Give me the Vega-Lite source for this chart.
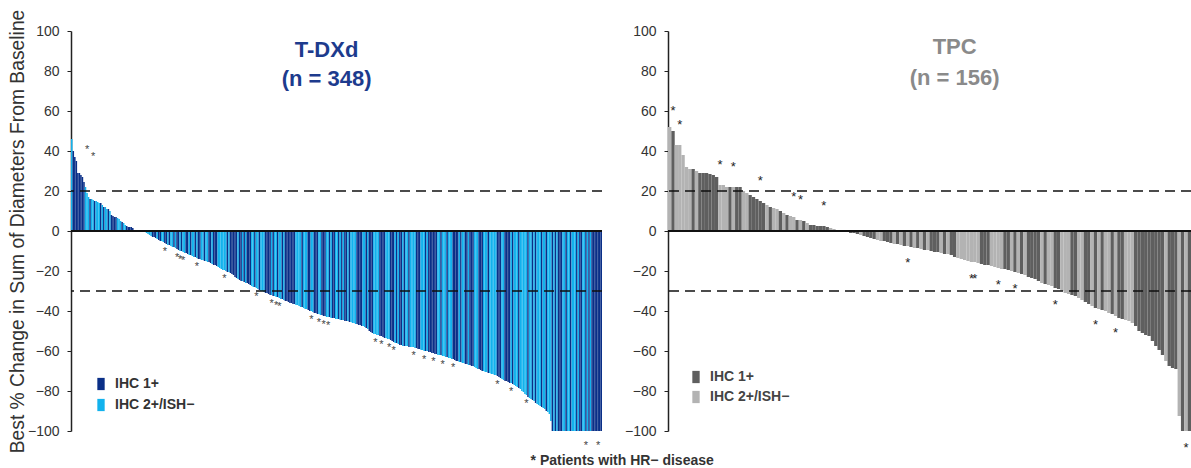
{
"$schema": "https://vega.github.io/schema/vega-lite/v6.json",
"padding": {"left": 8, "top": 9, "right": 5, "bottom": 0},
"bounds": "flush",
"spacing": 66,
"config": {"font": "Liberation Sans", "view": {"stroke": null}, "axis": {"labelOverlap": false}},
"title": {"text": "* Patients with HR− disease", "orient": "bottom", "anchor": "middle", "fontSize": 14, "fontWeight": "bold", "color": "#333333", "offset": -1, "dx": 22},
"resolve": {"scale": {"color": "independent", "x": "independent", "y": "independent"}, "legend": {"color": "independent"}},
"datasets": {
"tdxd": [
{"id":1,"pct":46,"ihc":"2+"},{"id":2,"pct":40,"ihc":"1+"},{"id":3,"pct":37,"ihc":"1+"},{"id":4,"pct":35,"ihc":"1+"},{"id":5,"pct":29,"ihc":"1+"},{"id":6,"pct":29,"ihc":"1+"},{"id":7,"pct":28,"ihc":"1+"},{"id":8,"pct":27,"ihc":"1+"},{"id":9,"pct":24.5,"ihc":"1+"},{"id":10,"pct":22,"ihc":"2+"},
{"id":11,"pct":19,"ihc":"2+","hr":1},{"id":12,"pct":17,"ihc":"2+"},{"id":13,"pct":16,"ihc":"1+"},{"id":14,"pct":16,"ihc":"2+"},{"id":15,"pct":15.5,"ihc":"2+","hr":1},{"id":16,"pct":15,"ihc":"1+"},{"id":17,"pct":15,"ihc":"2+"},{"id":18,"pct":14.5,"ihc":"2+"},{"id":19,"pct":14,"ihc":"2+"},{"id":20,"pct":14,"ihc":"1+"},
{"id":21,"pct":13,"ihc":"2+"},{"id":22,"pct":12,"ihc":"1+"},{"id":23,"pct":12,"ihc":"2+"},{"id":24,"pct":11,"ihc":"2+"},{"id":25,"pct":11,"ihc":"1+"},{"id":26,"pct":10,"ihc":"2+"},{"id":27,"pct":8,"ihc":"1+"},{"id":28,"pct":7.5,"ihc":"1+"},{"id":29,"pct":7,"ihc":"1+"},{"id":30,"pct":7,"ihc":"1+"},
{"id":31,"pct":6.5,"ihc":"2+"},{"id":32,"pct":6,"ihc":"2+"},{"id":33,"pct":5,"ihc":"2+"},{"id":34,"pct":4.5,"ihc":"1+"},{"id":35,"pct":4,"ihc":"2+"},{"id":36,"pct":3,"ihc":"2+"},{"id":37,"pct":2.5,"ihc":"1+"},{"id":38,"pct":2,"ihc":"1+"},{"id":39,"pct":2,"ihc":"1+"},{"id":40,"pct":2,"ihc":"1+"},
{"id":41,"pct":1.5,"ihc":"1+"},{"id":42,"pct":0,"ihc":"2+"},{"id":43,"pct":0,"ihc":"2+"},{"id":44,"pct":0,"ihc":"2+"},{"id":45,"pct":0,"ihc":"2+"},{"id":46,"pct":0,"ihc":"2+"},{"id":47,"pct":0,"ihc":"2+"},{"id":48,"pct":0,"ihc":"2+"},{"id":49,"pct":0,"ihc":"2+"},{"id":50,"pct":-1,"ihc":"2+"},
{"id":51,"pct":-1.5,"ihc":"2+"},{"id":52,"pct":-2,"ihc":"2+"},{"id":53,"pct":-2.5,"ihc":"2+"},{"id":54,"pct":-3,"ihc":"1+"},{"id":55,"pct":-3,"ihc":"1+"},{"id":56,"pct":-3.5,"ihc":"1+"},{"id":57,"pct":-4,"ihc":"2+"},{"id":58,"pct":-4.5,"ihc":"1+"},{"id":59,"pct":-5,"ihc":"1+"},{"id":60,"pct":-5,"ihc":"2+"},
{"id":61,"pct":-5.5,"ihc":"2+"},{"id":62,"pct":-6,"ihc":"1+","hr":1},{"id":63,"pct":-6.5,"ihc":"1+"},{"id":64,"pct":-7,"ihc":"2+"},{"id":65,"pct":-7,"ihc":"1+"},{"id":66,"pct":-7.5,"ihc":"2+"},{"id":67,"pct":-8,"ihc":"2+"},{"id":68,"pct":-8,"ihc":"1+"},{"id":69,"pct":-8.5,"ihc":"2+"},{"id":70,"pct":-9,"ihc":"1+","hr":1},
{"id":71,"pct":-9.5,"ihc":"1+"},{"id":72,"pct":-10,"ihc":"2+","hr":1},{"id":73,"pct":-10,"ihc":"1+"},{"id":74,"pct":-10.5,"ihc":"2+","hr":1},{"id":75,"pct":-11,"ihc":"2+"},{"id":76,"pct":-11,"ihc":"1+"},{"id":77,"pct":-11.5,"ihc":"1+"},{"id":78,"pct":-12,"ihc":"2+"},{"id":79,"pct":-12,"ihc":"1+"},{"id":80,"pct":-12.5,"ihc":"2+"},
{"id":81,"pct":-13,"ihc":"2+"},{"id":82,"pct":-13,"ihc":"1+"},{"id":83,"pct":-13.5,"ihc":"2+","hr":1},{"id":84,"pct":-14,"ihc":"1+"},{"id":85,"pct":-14,"ihc":"1+"},{"id":86,"pct":-14.5,"ihc":"2+"},{"id":87,"pct":-14.5,"ihc":"2+"},{"id":88,"pct":-15,"ihc":"1+"},{"id":89,"pct":-15,"ihc":"2+"},{"id":90,"pct":-15.5,"ihc":"2+"},
{"id":91,"pct":-15.5,"ihc":"1+"},{"id":92,"pct":-16,"ihc":"1+"},{"id":93,"pct":-16.5,"ihc":"2+"},{"id":94,"pct":-17,"ihc":"1+"},{"id":95,"pct":-17,"ihc":"1+"},{"id":96,"pct":-17.5,"ihc":"1+"},{"id":97,"pct":-18,"ihc":"2+"},{"id":98,"pct":-18.5,"ihc":"2+"},{"id":99,"pct":-19,"ihc":"2+"},{"id":100,"pct":-19.5,"ihc":"2+"},
{"id":101,"pct":-19.5,"ihc":"2+","hr":1},{"id":102,"pct":-20,"ihc":"2+"},{"id":103,"pct":-20.5,"ihc":"1+"},{"id":104,"pct":-20.5,"ihc":"2+"},{"id":105,"pct":-21,"ihc":"1+"},{"id":106,"pct":-21.5,"ihc":"1+"},{"id":107,"pct":-22,"ihc":"1+"},{"id":108,"pct":-23,"ihc":"1+"},{"id":109,"pct":-23.5,"ihc":"1+"},{"id":110,"pct":-24,"ihc":"2+"},
{"id":111,"pct":-24.5,"ihc":"1+"},{"id":112,"pct":-25,"ihc":"1+"},{"id":113,"pct":-25,"ihc":"2+"},{"id":114,"pct":-25.5,"ihc":"1+"},{"id":115,"pct":-26,"ihc":"2+"},{"id":116,"pct":-26,"ihc":"1+"},{"id":117,"pct":-26.5,"ihc":"1+"},{"id":118,"pct":-27,"ihc":"1+"},{"id":119,"pct":-27.5,"ihc":"2+"},{"id":120,"pct":-28,"ihc":"2+"},
{"id":121,"pct":-28,"ihc":"1+"},{"id":122,"pct":-28.5,"ihc":"2+","hr":1},{"id":123,"pct":-29,"ihc":"2+"},{"id":124,"pct":-29.5,"ihc":"1+"},{"id":125,"pct":-30,"ihc":"2+"},{"id":126,"pct":-30,"ihc":"2+"},{"id":127,"pct":-30.5,"ihc":"2+"},{"id":128,"pct":-31,"ihc":"1+"},{"id":129,"pct":-31,"ihc":"1+"},{"id":130,"pct":-31.5,"ihc":"1+"},
{"id":131,"pct":-32,"ihc":"1+"},{"id":132,"pct":-32,"ihc":"2+","hr":1},{"id":133,"pct":-32.5,"ihc":"1+"},{"id":134,"pct":-32.5,"ihc":"2+"},{"id":135,"pct":-33,"ihc":"2+","hr":1},{"id":136,"pct":-33,"ihc":"1+"},{"id":137,"pct":-33.5,"ihc":"2+","hr":1},{"id":138,"pct":-34,"ihc":"2+"},{"id":139,"pct":-34,"ihc":"1+"},{"id":140,"pct":-34.5,"ihc":"2+"},
{"id":141,"pct":-35,"ihc":"1+"},{"id":142,"pct":-35,"ihc":"1+"},{"id":143,"pct":-35.5,"ihc":"1+"},{"id":144,"pct":-36,"ihc":"1+"},{"id":145,"pct":-36,"ihc":"1+"},{"id":146,"pct":-36.5,"ihc":"1+"},{"id":147,"pct":-36.5,"ihc":"1+"},{"id":148,"pct":-37,"ihc":"2+"},{"id":149,"pct":-37,"ihc":"2+"},{"id":150,"pct":-37.5,"ihc":"2+"},
{"id":151,"pct":-38,"ihc":"2+"},{"id":152,"pct":-38,"ihc":"1+"},{"id":153,"pct":-38.5,"ihc":"2+"},{"id":154,"pct":-39,"ihc":"2+"},{"id":155,"pct":-39,"ihc":"2+"},{"id":156,"pct":-39.5,"ihc":"1+"},{"id":157,"pct":-40,"ihc":"1+"},{"id":158,"pct":-40,"ihc":"2+","hr":1},{"id":159,"pct":-40.5,"ihc":"2+"},{"id":160,"pct":-41,"ihc":"1+"},
{"id":161,"pct":-41,"ihc":"1+"},{"id":162,"pct":-41.5,"ihc":"1+"},{"id":163,"pct":-41.5,"ihc":"2+","hr":1},{"id":164,"pct":-42,"ihc":"2+"},{"id":165,"pct":-42,"ihc":"1+"},{"id":166,"pct":-42.5,"ihc":"1+","hr":1},{"id":167,"pct":-42.5,"ihc":"1+"},{"id":168,"pct":-43,"ihc":"2+"},{"id":169,"pct":-43,"ihc":"2+","hr":1},{"id":170,"pct":-43,"ihc":"1+"},
{"id":171,"pct":-43.5,"ihc":"2+"},{"id":172,"pct":-43.5,"ihc":"1+"},{"id":173,"pct":-43.5,"ihc":"1+"},{"id":174,"pct":-44,"ihc":"2+"},{"id":175,"pct":-44,"ihc":"2+"},{"id":176,"pct":-44,"ihc":"1+"},{"id":177,"pct":-44.5,"ihc":"2+"},{"id":178,"pct":-44.5,"ihc":"1+"},{"id":179,"pct":-44.5,"ihc":"2+"},{"id":180,"pct":-45,"ihc":"1+"},
{"id":181,"pct":-45,"ihc":"1+"},{"id":182,"pct":-45,"ihc":"2+"},{"id":183,"pct":-45.5,"ihc":"1+"},{"id":184,"pct":-45.5,"ihc":"2+"},{"id":185,"pct":-46,"ihc":"2+"},{"id":186,"pct":-46,"ihc":"2+"},{"id":187,"pct":-46.5,"ihc":"2+"},{"id":188,"pct":-46.5,"ihc":"1+"},{"id":189,"pct":-47,"ihc":"1+"},{"id":190,"pct":-47,"ihc":"1+"},
{"id":191,"pct":-47.5,"ihc":"1+"},{"id":192,"pct":-47.5,"ihc":"2+"},{"id":193,"pct":-48,"ihc":"2+"},{"id":194,"pct":-48.5,"ihc":"1+"},{"id":195,"pct":-49,"ihc":"2+"},{"id":196,"pct":-50,"ihc":"1+"},{"id":197,"pct":-50.5,"ihc":"1+"},{"id":198,"pct":-51,"ihc":"1+"},{"id":199,"pct":-51.5,"ihc":"2+"},{"id":200,"pct":-51.5,"ihc":"2+","hr":1},
{"id":201,"pct":-52,"ihc":"2+"},{"id":202,"pct":-52,"ihc":"2+"},{"id":203,"pct":-52.5,"ihc":"1+"},{"id":204,"pct":-52.5,"ihc":"1+","hr":1},{"id":205,"pct":-53,"ihc":"1+"},{"id":206,"pct":-53.5,"ihc":"1+"},{"id":207,"pct":-53.5,"ihc":"2+"},{"id":208,"pct":-54,"ihc":"2+"},{"id":209,"pct":-54,"ihc":"2+","hr":1},{"id":210,"pct":-54.5,"ihc":"1+"},
{"id":211,"pct":-55,"ihc":"1+"},{"id":212,"pct":-55.5,"ihc":"1+","hr":1},{"id":213,"pct":-56,"ihc":"2+"},{"id":214,"pct":-56,"ihc":"1+"},{"id":215,"pct":-56.5,"ihc":"2+"},{"id":216,"pct":-57,"ihc":"1+"},{"id":217,"pct":-57,"ihc":"1+"},{"id":218,"pct":-57.5,"ihc":"2+"},{"id":219,"pct":-57.5,"ihc":"1+"},{"id":220,"pct":-57.5,"ihc":"2+"},
{"id":221,"pct":-57.5,"ihc":"2+"},{"id":222,"pct":-58,"ihc":"1+"},{"id":223,"pct":-58,"ihc":"2+"},{"id":224,"pct":-58,"ihc":"2+"},{"id":225,"pct":-58,"ihc":"2+","hr":1},{"id":226,"pct":-58.5,"ihc":"2+"},{"id":227,"pct":-58.5,"ihc":"1+"},{"id":228,"pct":-59,"ihc":"1+"},{"id":229,"pct":-59,"ihc":"1+"},{"id":230,"pct":-59.5,"ihc":"2+"},
{"id":231,"pct":-59.5,"ihc":"2+"},{"id":232,"pct":-60,"ihc":"2+","hr":1},{"id":233,"pct":-60,"ihc":"1+"},{"id":234,"pct":-60,"ihc":"2+"},{"id":235,"pct":-60.5,"ihc":"1+"},{"id":236,"pct":-60.5,"ihc":"1+"},{"id":237,"pct":-61,"ihc":"1+"},{"id":238,"pct":-61,"ihc":"1+","hr":1},{"id":239,"pct":-61.5,"ihc":"1+"},{"id":240,"pct":-61.5,"ihc":"1+"},
{"id":241,"pct":-62,"ihc":"2+"},{"id":242,"pct":-62,"ihc":"2+"},{"id":243,"pct":-62,"ihc":"1+"},{"id":244,"pct":-62.5,"ihc":"2+","hr":1},{"id":245,"pct":-62.5,"ihc":"2+"},{"id":246,"pct":-63,"ihc":"2+"},{"id":247,"pct":-63,"ihc":"1+"},{"id":248,"pct":-63.5,"ihc":"2+"},{"id":249,"pct":-63.5,"ihc":"2+"},{"id":250,"pct":-64,"ihc":"2+"},
{"id":251,"pct":-64,"ihc":"1+","hr":1},{"id":252,"pct":-64.5,"ihc":"1+"},{"id":253,"pct":-65,"ihc":"1+"},{"id":254,"pct":-65,"ihc":"1+"},{"id":255,"pct":-65.5,"ihc":"2+"},{"id":256,"pct":-65.5,"ihc":"1+"},{"id":257,"pct":-66,"ihc":"2+"},{"id":258,"pct":-66,"ihc":"2+"},{"id":259,"pct":-66.5,"ihc":"1+"},{"id":260,"pct":-66.5,"ihc":"1+"},
{"id":261,"pct":-67,"ihc":"2+"},{"id":262,"pct":-67,"ihc":"1+"},{"id":263,"pct":-67.5,"ihc":"1+"},{"id":264,"pct":-67.5,"ihc":"1+"},{"id":265,"pct":-68,"ihc":"2+"},{"id":266,"pct":-68.5,"ihc":"2+"},{"id":267,"pct":-69,"ihc":"2+"},{"id":268,"pct":-69,"ihc":"1+"},{"id":269,"pct":-69.5,"ihc":"1+"},{"id":270,"pct":-70,"ihc":"1+"},
{"id":271,"pct":-70,"ihc":"2+"},{"id":272,"pct":-70.5,"ihc":"2+"},{"id":273,"pct":-70.5,"ihc":"2+"},{"id":274,"pct":-71,"ihc":"1+"},{"id":275,"pct":-71,"ihc":"2+"},{"id":276,"pct":-71.5,"ihc":"2+"},{"id":277,"pct":-71.5,"ihc":"2+"},{"id":278,"pct":-72,"ihc":"2+"},{"id":279,"pct":-72,"ihc":"2+"},{"id":280,"pct":-72.5,"ihc":"1+","hr":1},
{"id":281,"pct":-73,"ihc":"1+"},{"id":282,"pct":-73.5,"ihc":"1+"},{"id":283,"pct":-74,"ihc":"2+"},{"id":284,"pct":-74.5,"ihc":"2+"},{"id":285,"pct":-75,"ihc":"1+"},{"id":286,"pct":-75,"ihc":"1+"},{"id":287,"pct":-75.5,"ihc":"1+"},{"id":288,"pct":-76,"ihc":"1+"},{"id":289,"pct":-76,"ihc":"2+","hr":1},{"id":290,"pct":-76.5,"ihc":"1+"},
{"id":291,"pct":-77,"ihc":"2+"},{"id":292,"pct":-77.5,"ihc":"2+"},{"id":293,"pct":-78,"ihc":"2+"},{"id":294,"pct":-78.5,"ihc":"1+"},{"id":295,"pct":-79,"ihc":"2+"},{"id":296,"pct":-80,"ihc":"2+"},{"id":297,"pct":-80.5,"ihc":"2+"},{"id":298,"pct":-81.5,"ihc":"2+"},{"id":299,"pct":-82,"ihc":"2+","hr":1},{"id":300,"pct":-83,"ihc":"1+"},
{"id":301,"pct":-83.5,"ihc":"2+"},{"id":302,"pct":-84,"ihc":"2+"},{"id":303,"pct":-84.5,"ihc":"1+"},{"id":304,"pct":-85,"ihc":"2+"},{"id":305,"pct":-86,"ihc":"1+"},{"id":306,"pct":-86.5,"ihc":"2+"},{"id":307,"pct":-87,"ihc":"2+"},{"id":308,"pct":-87.5,"ihc":"2+"},{"id":309,"pct":-88,"ihc":"1+"},{"id":310,"pct":-88.5,"ihc":"2+"},
{"id":311,"pct":-89,"ihc":"2+"},{"id":312,"pct":-90,"ihc":"1+"},{"id":313,"pct":-90.5,"ihc":"2+"},{"id":314,"pct":-91.5,"ihc":"2+"},{"id":315,"pct":-95,"ihc":"2+"},{"id":316,"pct":-100,"ihc":"1+"},{"id":317,"pct":-100,"ihc":"2+"},{"id":318,"pct":-100,"ihc":"1+"},{"id":319,"pct":-100,"ihc":"2+"},{"id":320,"pct":-100,"ihc":"1+"},
{"id":321,"pct":-100,"ihc":"1+"},{"id":322,"pct":-100,"ihc":"1+"},{"id":323,"pct":-100,"ihc":"2+"},{"id":324,"pct":-100,"ihc":"2+"},{"id":325,"pct":-100,"ihc":"1+"},{"id":326,"pct":-100,"ihc":"2+"},{"id":327,"pct":-100,"ihc":"2+"},{"id":328,"pct":-100,"ihc":"1+"},{"id":329,"pct":-100,"ihc":"2+"},{"id":330,"pct":-100,"ihc":"2+"},
{"id":331,"pct":-100,"ihc":"2+"},{"id":332,"pct":-100,"ihc":"1+"},{"id":333,"pct":-100,"ihc":"2+"},{"id":334,"pct":-100,"ihc":"1+"},{"id":335,"pct":-100,"ihc":"1+"},{"id":336,"pct":-100,"ihc":"2+"},{"id":337,"pct":-100,"ihc":"2+"},{"id":338,"pct":-100,"ihc":"1+","hr":1},{"id":339,"pct":-100,"ihc":"2+"},{"id":340,"pct":-100,"ihc":"1+"},
{"id":341,"pct":-100,"ihc":"2+"},{"id":342,"pct":-100,"ihc":"1+"},{"id":343,"pct":-100,"ihc":"1+"},{"id":344,"pct":-100,"ihc":"1+"},{"id":345,"pct":-100,"ihc":"1+"},{"id":346,"pct":-100,"ihc":"1+","hr":1},{"id":347,"pct":-100,"ihc":"1+"},{"id":348,"pct":-100,"ihc":"1+"}
],
"tpc": [
{"id":1,"pct":52,"ihc":"2+"},{"id":2,"pct":50,"ihc":"1+","hr":1},{"id":3,"pct":43,"ihc":"2+"},{"id":4,"pct":43,"ihc":"2+","hr":1},{"id":5,"pct":38,"ihc":"2+"},{"id":6,"pct":32,"ihc":"2+"},{"id":7,"pct":31,"ihc":"2+"},{"id":8,"pct":31,"ihc":"1+"},{"id":9,"pct":30,"ihc":"2+"},{"id":10,"pct":29,"ihc":"1+"},
{"id":11,"pct":29,"ihc":"1+"},{"id":12,"pct":29,"ihc":"1+"},{"id":13,"pct":28.5,"ihc":"1+"},{"id":14,"pct":28,"ihc":"1+"},{"id":15,"pct":27,"ihc":"1+"},{"id":16,"pct":23,"ihc":"2+","hr":1},{"id":17,"pct":23,"ihc":"2+"},{"id":18,"pct":22,"ihc":"2+"},{"id":19,"pct":22,"ihc":"1+"},{"id":20,"pct":22,"ihc":"2+","hr":1},
{"id":21,"pct":22,"ihc":"1+"},{"id":22,"pct":22,"ihc":"1+"},{"id":23,"pct":20,"ihc":"2+"},{"id":24,"pct":19,"ihc":"2+"},{"id":25,"pct":18,"ihc":"1+"},{"id":26,"pct":17,"ihc":"1+"},{"id":27,"pct":16,"ihc":"1+"},{"id":28,"pct":15,"ihc":"1+","hr":1},{"id":29,"pct":14,"ihc":"1+"},{"id":30,"pct":13,"ihc":"2+"},
{"id":31,"pct":12,"ihc":"1+"},{"id":32,"pct":11.5,"ihc":"2+"},{"id":33,"pct":11,"ihc":"2+"},{"id":34,"pct":10,"ihc":"1+"},{"id":35,"pct":9,"ihc":"2+"},{"id":36,"pct":8,"ihc":"1+"},{"id":37,"pct":7.5,"ihc":"2+"},{"id":38,"pct":7,"ihc":"2+","hr":1},{"id":39,"pct":5.5,"ihc":"1+"},{"id":40,"pct":5.5,"ihc":"2+","hr":1},
{"id":41,"pct":5,"ihc":"1+"},{"id":42,"pct":4,"ihc":"2+"},{"id":43,"pct":3,"ihc":"1+"},{"id":44,"pct":3,"ihc":"1+"},{"id":45,"pct":2.5,"ihc":"1+"},{"id":46,"pct":2.5,"ihc":"1+"},{"id":47,"pct":2.5,"ihc":"1+","hr":1},{"id":48,"pct":2,"ihc":"1+"},{"id":49,"pct":1.5,"ihc":"2+"},{"id":50,"pct":1,"ihc":"2+"},
{"id":51,"pct":0,"ihc":"2+"},{"id":52,"pct":0,"ihc":"1+"},{"id":53,"pct":0,"ihc":"2+"},{"id":54,"pct":-0.5,"ihc":"1+"},{"id":55,"pct":-1,"ihc":"1+"},{"id":56,"pct":-1,"ihc":"1+"},{"id":57,"pct":-1.5,"ihc":"1+"},{"id":58,"pct":-2,"ihc":"2+"},{"id":59,"pct":-2.5,"ihc":"1+"},{"id":60,"pct":-3,"ihc":"1+"},
{"id":61,"pct":-3.5,"ihc":"1+"},{"id":62,"pct":-4,"ihc":"1+"},{"id":63,"pct":-4.5,"ihc":"2+"},{"id":64,"pct":-5,"ihc":"2+"},{"id":65,"pct":-5,"ihc":"1+"},{"id":66,"pct":-5.5,"ihc":"1+"},{"id":67,"pct":-6,"ihc":"1+"},{"id":68,"pct":-6.5,"ihc":"2+"},{"id":69,"pct":-6.5,"ihc":"1+"},{"id":70,"pct":-7,"ihc":"2+"},
{"id":71,"pct":-7.5,"ihc":"1+"},{"id":72,"pct":-7.5,"ihc":"2+","hr":1},{"id":73,"pct":-8,"ihc":"1+"},{"id":74,"pct":-8.5,"ihc":"2+"},{"id":75,"pct":-8.5,"ihc":"1+"},{"id":76,"pct":-9,"ihc":"2+"},{"id":77,"pct":-9.5,"ihc":"1+"},{"id":78,"pct":-9.5,"ihc":"2+"},{"id":79,"pct":-10,"ihc":"1+"},{"id":80,"pct":-10.5,"ihc":"1+"},
{"id":81,"pct":-10.5,"ihc":"1+"},{"id":82,"pct":-11,"ihc":"2+"},{"id":83,"pct":-11.5,"ihc":"1+"},{"id":84,"pct":-11.5,"ihc":"2+"},{"id":85,"pct":-12,"ihc":"1+"},{"id":86,"pct":-13,"ihc":"1+"},{"id":87,"pct":-13.5,"ihc":"2+"},{"id":88,"pct":-14,"ihc":"2+"},{"id":89,"pct":-14.5,"ihc":"2+"},{"id":90,"pct":-15,"ihc":"2+"},
{"id":91,"pct":-15.5,"ihc":"2+","hr":1},{"id":92,"pct":-15.5,"ihc":"2+","hr":1},{"id":93,"pct":-16,"ihc":"2+"},{"id":94,"pct":-16.5,"ihc":"1+"},{"id":95,"pct":-17,"ihc":"1+"},{"id":96,"pct":-17,"ihc":"1+"},{"id":97,"pct":-17.5,"ihc":"2+"},{"id":98,"pct":-18,"ihc":"2+"},{"id":99,"pct":-18.5,"ihc":"2+","hr":1},{"id":100,"pct":-19,"ihc":"2+"},
{"id":101,"pct":-19,"ihc":"1+"},{"id":102,"pct":-19.5,"ihc":"1+"},{"id":103,"pct":-20,"ihc":"2+"},{"id":104,"pct":-20.5,"ihc":"1+","hr":1},{"id":105,"pct":-21,"ihc":"2+"},{"id":106,"pct":-21.5,"ihc":"1+"},{"id":107,"pct":-22,"ihc":"2+"},{"id":108,"pct":-23,"ihc":"1+"},{"id":109,"pct":-23.5,"ihc":"1+"},{"id":110,"pct":-24,"ihc":"1+"},
{"id":111,"pct":-25,"ihc":"1+"},{"id":112,"pct":-26,"ihc":"2+"},{"id":113,"pct":-26.5,"ihc":"1+"},{"id":114,"pct":-27,"ihc":"2+"},{"id":115,"pct":-27.5,"ihc":"2+"},{"id":116,"pct":-28.5,"ihc":"1+","hr":1},{"id":117,"pct":-29,"ihc":"1+"},{"id":118,"pct":-30,"ihc":"2+"},{"id":119,"pct":-31,"ihc":"2+"},{"id":120,"pct":-31.5,"ihc":"2+"},
{"id":121,"pct":-32,"ihc":"1+"},{"id":122,"pct":-32.5,"ihc":"1+"},{"id":123,"pct":-33.5,"ihc":"2+"},{"id":124,"pct":-34.5,"ihc":"2+"},{"id":125,"pct":-35.5,"ihc":"1+"},{"id":126,"pct":-36.5,"ihc":"1+"},{"id":127,"pct":-37.5,"ihc":"2+"},{"id":128,"pct":-38.5,"ihc":"1+","hr":1},{"id":129,"pct":-39,"ihc":"2+"},{"id":130,"pct":-39.5,"ihc":"1+"},
{"id":131,"pct":-40,"ihc":"2+"},{"id":132,"pct":-41,"ihc":"2+"},{"id":133,"pct":-41.5,"ihc":"1+"},{"id":134,"pct":-42.5,"ihc":"2+","hr":1},{"id":135,"pct":-43.5,"ihc":"1+"},{"id":136,"pct":-44,"ihc":"1+"},{"id":137,"pct":-44.5,"ihc":"2+"},{"id":138,"pct":-45,"ihc":"2+"},{"id":139,"pct":-46,"ihc":"2+"},{"id":140,"pct":-47.5,"ihc":"1+"},
{"id":141,"pct":-50,"ihc":"1+"},{"id":142,"pct":-51,"ihc":"1+"},{"id":143,"pct":-52,"ihc":"1+"},{"id":144,"pct":-52.5,"ihc":"1+"},{"id":145,"pct":-55,"ihc":"1+"},{"id":146,"pct":-57.5,"ihc":"1+"},{"id":147,"pct":-59.5,"ihc":"1+"},{"id":148,"pct":-62,"ihc":"1+"},{"id":149,"pct":-65,"ihc":"2+"},{"id":150,"pct":-67.5,"ihc":"1+"},
{"id":151,"pct":-68.5,"ihc":"1+"},{"id":152,"pct":-69,"ihc":"1+"},{"id":153,"pct":-92.5,"ihc":"2+"},{"id":154,"pct":-100,"ihc":"1+"},{"id":155,"pct":-100,"ihc":"2+","hr":1},{"id":156,"pct":-100,"ihc":"1+"}
]
},
"hconcat": [
{
"width": 531, "height": 400,
"data": {"name": "tdxd"},
"layer": [
{"mark": {"type": "bar"},
 "encoding": {
  "x": {"field": "id", "type": "ordinal", "axis": null, "scale": {"paddingInner": 0, "paddingOuter": 0}},
  "y": {"field": "pct", "type": "quantitative", "scale": {"domain": [-100, 100], "nice": false},
        "axis": {"title": "Best % Change in Sum of Diameters From Baseline", "values": [-100,-80,-60,-40,-20,0,20,40,60,80,100], "tickCount": 20, "labelOverlap": false, "grid": false, "domainColor": "#222222", "domainWidth": 1.5, "tickColor": "#222222", "tickSize": 4, "labelPadding": 8, "labelFontSize": 14, "labelColor": "#333333", "titleFontSize": 19.3, "titleFontWeight": "normal", "titleColor": "#333333", "titlePadding": 0}},
  "color": {"field": "ihc", "type": "nominal", "scale": {"domain": ["1+", "2+"], "range": ["#0a2f87", "#12b2ed"]},
            "legend": {"title": null, "orient": "none", "legendX": 23, "legendY": 346, "symbolType": "M-0.6,-1H0.6V1H-0.6Z", "symbolSize": 150, "symbolStrokeWidth": 0, "labelExpr": "datum.label == '1+' ? 'IHC 1+' : 'IHC 2+/ISH−'", "labelFontSize": 14, "labelFontWeight": "bold", "labelColor": "#333333", "rowPadding": 7, "labelOffset": 7}}
 }},
{"data": {"values": [{}]}, "mark": {"type": "rule", "color": "#111111", "strokeWidth": 1.8}, "encoding": {"y": {"datum": 0, "type": "quantitative"}}},
{"data": {"values": [{}]}, "mark": {"type": "rule", "color": "#111111", "strokeWidth": 1.5, "strokeDash": [10, 6]}, "encoding": {"y": {"datum": 20, "type": "quantitative"}}},
{"data": {"values": [{}]}, "mark": {"type": "rule", "color": "#111111", "strokeWidth": 1.5, "strokeDash": [10, 6]}, "encoding": {"y": {"datum": -30, "type": "quantitative"}}},
{"transform": [{"filter": "datum.hr == 1 && datum.pct > 0"}], "mark": {"type": "text", "text": "*", "fontSize": 11, "color": "#444444", "dy": -43},
 "encoding": {"x": {"field": "id", "type": "ordinal"}, "y": {"field": "pct", "type": "quantitative"}}},
{"transform": [{"filter": "datum.hr == 1 && datum.pct < 0 && datum.pct > -100"}], "mark": {"type": "text", "text": "*", "fontSize": 11, "color": "#444444", "baseline": "alphabetic", "dy": 12},
 "encoding": {"x": {"field": "id", "type": "ordinal"}, "y": {"field": "pct", "type": "quantitative"}}},
{"transform": [{"filter": "datum.hr == 1 && datum.pct <= -100"}], "mark": {"type": "text", "text": "*", "fontSize": 11, "color": "#444444", "baseline": "alphabetic", "dy": 18},
 "encoding": {"x": {"field": "id", "type": "ordinal"}, "y": {"field": "pct", "type": "quantitative"}}},
{"data": {"values": [{}]}, "mark": {"type": "text", "text": ["T-DXd", "(n = 348)"], "fontSize": 22, "fontWeight": "bold", "color": "#1d3b8d", "lineHeight": 29, "baseline": "middle", "align": "center"},
 "encoding": {"x": {"datum": 168, "type": "ordinal"}, "y": {"datum": 90.5, "type": "quantitative"}}}
]
},
{
"width": 523, "height": 400,
"data": {"name": "tpc"},
"layer": [
{"mark": {"type": "bar"},
 "encoding": {
  "x": {"field": "id", "type": "ordinal", "axis": null, "scale": {"paddingInner": 0, "paddingOuter": 0}},
  "y": {"field": "pct", "type": "quantitative", "scale": {"domain": [-100, 100], "nice": false},
        "axis": {"title": null, "values": [-100,-80,-60,-40,-20,0,20,40,60,80,100], "tickCount": 20, "labelOverlap": false, "grid": false, "domainColor": "#222222", "domainWidth": 1.5, "tickColor": "#222222", "tickSize": 4, "labelPadding": 8, "labelFontSize": 14, "labelColor": "#333333"}},
  "color": {"field": "ihc", "type": "nominal", "scale": {"domain": ["1+", "2+"], "range": ["#5f5f5f", "#b3b3b3"]},
            "legend": {"title": null, "orient": "none", "legendX": 21, "legendY": 339, "symbolType": "M-0.6,-1H0.6V1H-0.6Z", "symbolSize": 150, "symbolStrokeWidth": 0, "labelExpr": "datum.label == '1+' ? 'IHC 1+' : 'IHC 2+/ISH−'", "labelFontSize": 14, "labelFontWeight": "bold", "labelColor": "#444444", "rowPadding": 6, "labelOffset": 7}}
 }},
{"data": {"values": [{}]}, "mark": {"type": "rule", "color": "#111111", "strokeWidth": 1.8}, "encoding": {"y": {"datum": 0, "type": "quantitative"}}},
{"data": {"values": [{}]}, "mark": {"type": "rule", "color": "#111111", "strokeWidth": 1.5, "strokeDash": [10, 6]}, "encoding": {"y": {"datum": 20, "type": "quantitative"}}},
{"data": {"values": [{}]}, "mark": {"type": "rule", "color": "#111111", "strokeWidth": 1.5, "strokeDash": [10, 6]}, "encoding": {"y": {"datum": -30, "type": "quantitative"}}},
{"transform": [{"filter": "datum.hr == 1 && datum.pct > 0"}], "mark": {"type": "text", "text": "*", "fontSize": 13, "color": "#222222", "baseline": "alphabetic", "dy": -16},
 "encoding": {"x": {"field": "id", "type": "ordinal"}, "y": {"field": "pct", "type": "quantitative"}}},
{"transform": [{"filter": "datum.hr == 1 && datum.pct < 0"}], "mark": {"type": "text", "text": "*", "fontSize": 13, "color": "#222222", "baseline": "alphabetic", "dy": 21},
 "encoding": {"x": {"field": "id", "type": "ordinal"}, "y": {"field": "pct", "type": "quantitative"}}},
{"data": {"values": [{}]}, "mark": {"type": "text", "text": ["TPC", "(n = 156)"], "fontSize": 22, "fontWeight": "bold", "color": "#8a8a8a", "lineHeight": 31, "baseline": "middle", "align": "center"},
 "encoding": {"x": {"datum": 86, "type": "ordinal"}, "y": {"datum": 92, "type": "quantitative"}}}
]
}
]
}
